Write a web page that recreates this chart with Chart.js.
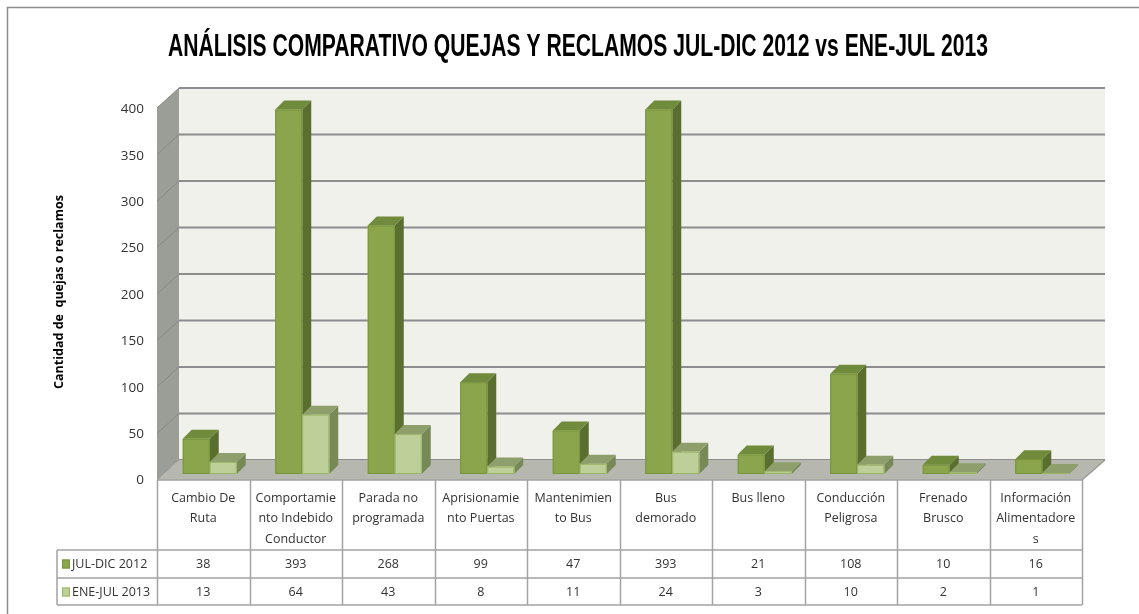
<!DOCTYPE html>
<html>
<head>
<meta charset="utf-8">
<script src="https://cdn.jsdelivr.net/npm/chart.js@4.4.1/dist/chart.umd.min.js"></script>
<style>
  html, body { margin: 0; padding: 0; background: #ffffff; }
  #quejas { display: block; }
</style>
</head>
<body>
<canvas id="quejas" width="1139" height="614"></canvas>
<script>
// datos
const categorias = [
  ['Cambio De', 'Ruta'],
  ['Comportamie', 'nto Indebido', 'Conductor'],
  ['Parada no', 'programada'],
  ['Aprisionamie', 'nto Puertas'],
  ['Mantenimien', 'to Bus'],
  ['Bus', 'demorado'],
  ['Bus lleno'],
  ['Conducción', 'Peligrosa'],
  ['Frenado', 'Brusco'],
  ['Información', 'Alimentadore', 's']
];
const julDic2012 = [38, 393, 268, 99, 47, 393, 21, 108, 10, 16];
const eneJul2013 = [13, 64, 43, 8, 11, 24, 3, 10, 2, 1];
const series = ['JUL-DIC 2012', 'ENE-JUL 2013'];
const ticksY = [0, 50, 100, 150, 200, 250, 300, 350, 400];

const titulo = 'ANÁLISIS COMPARATIVO QUEJAS Y RECLAMOS JUL-DIC 2012 vs ENE-JUL 2013';
const tituloEje = 'Cantidad de  quejas o reclamos';

const fuente = "'Open Sans', 'Liberation Sans', sans-serif";
const colores = [
  { front: '#8aa54b', side: '#5a6e2f', top: '#6f8b3b', line: '#77943d' },
  { front: '#bdd09a', side: '#788958', top: '#8f9f6b', line: '#9bb566' }
];

// profundidad 3D
const prof = { dx: 9, dy: 9, shift: 6.5 };
const suelo = { dx: 22, dy: 20, front: 6, back: -14 };

const escena = {
  id: 'escena',
  beforeDraw(chart) {
    const ctx = chart.ctx;
    const a = chart.chartArea;
    const y = chart.scales.y;
    ctx.save();
    ctx.fillStyle = '#ffffff';
    ctx.fillRect(0, 0, chart.width, chart.height);

    // marco exterior
    ctx.strokeStyle = '#8c8c8c';
    ctx.lineWidth = 1.5;
    ctx.strokeRect(7.5, 7.5, 1160, 640);

    // titulo
    ctx.fillStyle = '#000000';
    ctx.font = "bold 32px 'Liberation Sans Narrow', 'Liberation Sans', sans-serif";
    const w = ctx.measureText(titulo).width;
    ctx.save();
    ctx.translate(578, 56);
    ctx.scale(820 / w, 1);
    ctx.textAlign = 'center';
    ctx.textBaseline = 'alphabetic';
    ctx.fillText(titulo, 0, 0);
    ctx.restore();

    // pared del fondo
    const fl = a.left, fr = a.right;
    const bl = fl + suelo.dx, br = fr + suelo.dx + 1;
    const back0 = y.getPixelForValue(0) + suelo.back;
    const backTop = y.getPixelForValue(400) + suelo.back - 1;
    const front0 = y.getPixelForValue(0) + suelo.front;
    const frontTop = y.getPixelForValue(400) + suelo.front - 1;
    ctx.fillStyle = '#eff1ea';
    ctx.fillRect(bl, backTop, br - bl, back0 - backTop);

    // pared lateral
    ctx.fillStyle = '#9b9e97';
    ctx.beginPath();
    ctx.moveTo(fl, frontTop);
    ctx.lineTo(bl, backTop);
    ctx.lineTo(bl, back0);
    ctx.lineTo(fl, front0);
    ctx.closePath();
    ctx.fill();

    // lineas de division
    ticksY.forEach(v => {
      const py = y.getPixelForValue(v);
      const yb = py + suelo.back - (v / 400);
      const yf = py + suelo.front - (v / 400);
      ctx.strokeStyle = '#8d8d8d';
      ctx.lineWidth = 2;
      ctx.beginPath();
      ctx.moveTo(bl, yb);
      ctx.lineTo(br, yb);
      ctx.stroke();
      ctx.strokeStyle = '#878a83';
      ctx.lineWidth = 1;
      ctx.beginPath();
      ctx.moveTo(fl, yf);
      ctx.lineTo(bl, yb);
      ctx.stroke();
    });

    // suelo
    ctx.fillStyle = '#b6b8b0';
    ctx.beginPath();
    ctx.moveTo(fl, front0);
    ctx.lineTo(fr, front0);
    ctx.lineTo(br, back0);
    ctx.lineTo(bl, back0);
    ctx.closePath();
    ctx.fill();
    ctx.strokeStyle = '#9a9c95';
    ctx.lineWidth = 1.5;
    ctx.beginPath();
    ctx.moveTo(fr, front0);
    ctx.lineTo(br, back0);
    ctx.stroke();

    // etiquetas del eje Y
    ctx.fillStyle = '#333333';
    ctx.font = '13.5px ' + fuente;
    ctx.textAlign = 'right';
    ctx.textBaseline = 'middle';
    ticksY.forEach(v => {
      ctx.fillText(String(v), 144, y.getPixelForValue(v) + suelo.front + 0.5);
    });

    // titulo del eje
    ctx.save();
    ctx.translate(59, 292);
    ctx.rotate(-Math.PI / 2);
    ctx.fillStyle = '#000000';
    ctx.font = 'bold 12.5px ' + fuente;
    ctx.textAlign = 'center';
    ctx.textBaseline = 'middle';
    ctx.fillText(tituloEje, 0, 0);
    ctx.restore();

    // tabla de datos
    const n = categorias.length;
    const cw = (fr - fl) / n;
    const tTop = front0, hBot = 550, r1 = 578, r2 = 605, legL = 57;
    ctx.strokeStyle = '#a3a3a3';
    ctx.lineWidth = 1.5;
    ctx.beginPath();
    ctx.moveTo(fl, tTop); ctx.lineTo(fr, tTop);
    ctx.moveTo(legL, hBot); ctx.lineTo(fr, hBot);
    ctx.moveTo(legL, r1); ctx.lineTo(fr, r1);
    ctx.moveTo(legL, r2); ctx.lineTo(fr, r2);
    ctx.moveTo(legL, hBot); ctx.lineTo(legL, r2);
    for (let i = 0; i <= n; i++) {
      const x = Math.round(fl + i * cw) + 0.5;
      ctx.moveTo(x, tTop); ctx.lineTo(x, r2);
    }
    ctx.stroke();

    ctx.fillStyle = '#333333';
    ctx.font = '12.5px ' + fuente;
    ctx.textAlign = 'center';
    ctx.textBaseline = 'middle';
    categorias.forEach((lineas, i) => {
      const cx = fl + (i + 0.5) * cw;
      lineas.forEach((t, k) => ctx.fillText(t, cx, 498 + k * 20.5));
      ctx.fillText(String(julDic2012[i]), cx, 564);
      ctx.fillText(String(eneJul2013[i]), cx, 592);
    });

    // leyenda en la tabla
    ctx.textAlign = 'left';
    [564, 592].forEach((cy, s) => {
      ctx.fillStyle = colores[s].front;
      ctx.fillRect(62, cy - 4.5, 8, 9);
      ctx.strokeStyle = colores[s].line;
      ctx.lineWidth = 1;
      ctx.strokeRect(62.5, cy - 4, 7, 8);
      ctx.fillStyle = '#333333';
      ctx.fillText(series[s], 72, cy);
    });
    ctx.restore();
  },
  beforeDatasetsDraw(chart) {
    const ctx = chart.ctx;
    ctx.save();
    const n = chart.data.labels.length;
    for (let i = 0; i < n; i++) {
      chart.data.datasets.forEach((ds, d) => {
        const el = chart.getDatasetMeta(d).data[i];
        const p = el.getProps(['x', 'y', 'base', 'width'], true);
        const c = colores[d];
        const l = p.x - p.width / 2 + prof.shift;
        const r = l + p.width;
        const t = p.y, b = p.base;
        // cara lateral
        ctx.fillStyle = c.side;
        ctx.beginPath();
        ctx.moveTo(r, b);
        ctx.lineTo(r + prof.dx, b - prof.dy);
        ctx.lineTo(r + prof.dx, t - prof.dy);
        ctx.lineTo(r, t);
        ctx.closePath();
        ctx.fill();
        // cara superior
        ctx.fillStyle = c.top;
        ctx.beginPath();
        ctx.moveTo(l, t);
        ctx.lineTo(l + prof.dx, t - prof.dy);
        ctx.lineTo(r + prof.dx, t - prof.dy);
        ctx.lineTo(r, t);
        ctx.closePath();
        ctx.fill();
        // cara frontal
        ctx.fillStyle = c.front;
        ctx.fillRect(l, t, p.width, b - t);
        ctx.strokeStyle = c.line;
        ctx.lineWidth = 1;
        ctx.strokeRect(l + 0.5, t + 0.5, p.width - 1, Math.max(b - t - 1, 0));
      });
    }
    ctx.restore();
    return false;
  }
};

const grafico = new Chart(document.getElementById('quejas').getContext('2d'), {
  type: 'bar',
  data: {
    labels: categorias,
    datasets: [{
      label: series[0],
      data: julDic2012,
      backgroundColor: colores[0].front
    }, {
      label: series[1],
      data: eneJul2013,
      backgroundColor: colores[1].front
    }]
  },
  options: {
    responsive: false,
    animation: false,
    devicePixelRatio: 1,
    categoryPercentage: 0.584,
    barPercentage: 1,
    layout: { padding: { left: 157, right: 57, top: 103, bottom: 140 } },
    scales: {
      x: { display: false, offset: true },
      y: { display: false, min: 0, max: 400 }
    },
    plugins: {
      legend: { display: false },
      title: { display: false },
      tooltip: { enabled: false }
    }
  },
  plugins: [escena]
});
</script>
</body>
</html>
